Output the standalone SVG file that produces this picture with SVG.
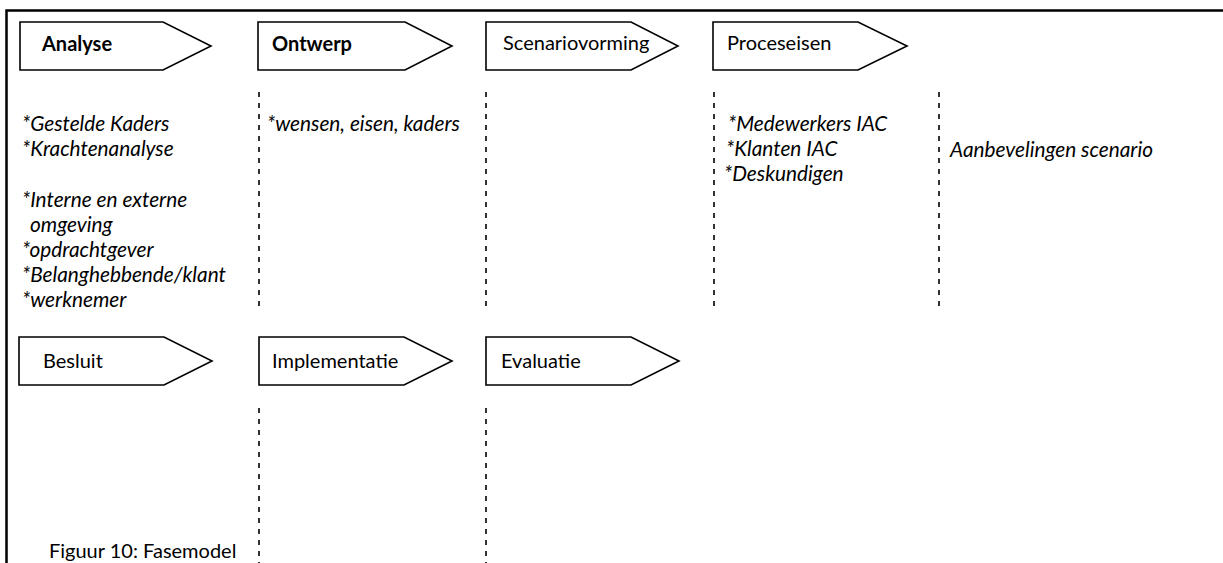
<svg xmlns="http://www.w3.org/2000/svg" width="1223" height="563" viewBox="0 0 1223 563">
  <style>
    .frame { stroke: #000; stroke-width: 2.5; fill: none; }
    .phase { fill: #fff; stroke: #000; stroke-width: 1.6; stroke-linejoin: miter; }
    .label { font-family: Lato, "Liberation Sans", sans-serif; font-size: 20px; fill: #000; }
    .bold { font-weight: bold; }
    .note { font-family: Lato, "Liberation Sans", sans-serif; font-size: 20.8px; font-style: italic; fill: #000; }
    .divider { stroke: #000; stroke-width: 1.6; stroke-dasharray: 5 6; fill: none; }
  </style>

  <!-- outer frame (top and left edges) -->
  <path class="frame" d="M1223 10.5 H6.5 V563"/>

  <!-- column dividers -->
  <g id="connectors">
    <line class="divider" x1="259" y1="92" x2="259" y2="310"/>
    <line class="divider" x1="486" y1="92" x2="486" y2="310"/>
    <line class="divider" x1="714" y1="92" x2="714" y2="310"/>
    <line class="divider" x1="939" y1="92" x2="939" y2="310"/>
    <line class="divider" x1="259" y1="408" x2="259" y2="563"/>
    <line class="divider" x1="486" y1="408" x2="486" y2="563"/>
  </g>

  <!-- top row of phases -->
  <g id="analyse">
    <polygon class="phase" points="20,22 163,22 211,46 163,70 20,70"/>
    <text class="label bold" x="42" y="51">Analyse</text>
  </g>
  <g id="ontwerp">
    <polygon class="phase" points="258,22 405,22 452,46 405,70 258,70"/>
    <text class="label bold" x="272" y="51">Ontwerp</text>
  </g>
  <g id="scenariovorming">
    <polygon class="phase" points="486,22 631,22 678,46 631,70 486,70"/>
    <text class="label" x="503" y="50">Scenariovorming</text>
  </g>
  <g id="proceseisen">
    <polygon class="phase" points="713,22 858,22 907,46 858,70 713,70"/>
    <text class="label" x="727" y="50">Proceseisen</text>
  </g>

  <!-- bottom row of phases -->
  <g id="besluit">
    <polygon class="phase" points="19,337 164,337 212,361 164,385 19,385"/>
    <text class="label" x="43" y="368">Besluit</text>
  </g>
  <g id="implementatie">
    <polygon class="phase" points="259,337 404,337 452,361 404,385 259,385"/>
    <text class="label" x="272" y="368">Implementatie</text>
  </g>
  <g id="evaluatie">
    <polygon class="phase" points="486,337 631,337 679,361 631,385 486,385"/>
    <text class="label" x="501" y="368">Evaluatie</text>
  </g>

  <!-- notes per phase -->
  <g id="notes-analyse">
    <text class="note" x="22" y="131">*Gestelde Kaders</text>
    <text class="note" x="22" y="156">*Krachtenanalyse</text>
    <text class="note" x="22" y="207">*Interne en externe</text>
    <text class="note" x="30" y="232">omgeving</text>
    <text class="note" x="22" y="257">*opdrachtgever</text>
    <text class="note" x="22" y="282">*Belanghebbende/klant</text>
    <text class="note" x="22" y="307">*werknemer</text>
  </g>
  <g id="notes-ontwerp">
    <text class="note" x="267" y="131">*wensen, eisen, kaders</text>
  </g>
  <g id="notes-proceseisen">
    <text class="note" x="728" y="131">*Medewerkers IAC</text>
    <text class="note" x="726" y="156">*Klanten IAC</text>
    <text class="note" x="724" y="181">*Deskundigen</text>
  </g>
  <g id="notes-advies">
    <text class="note" x="950" y="157">Aanbevelingen scenario</text>
  </g>

  <!-- caption -->
  <text class="label" x="49" y="558">Figuur 10: Fasemodel</text>
</svg>
